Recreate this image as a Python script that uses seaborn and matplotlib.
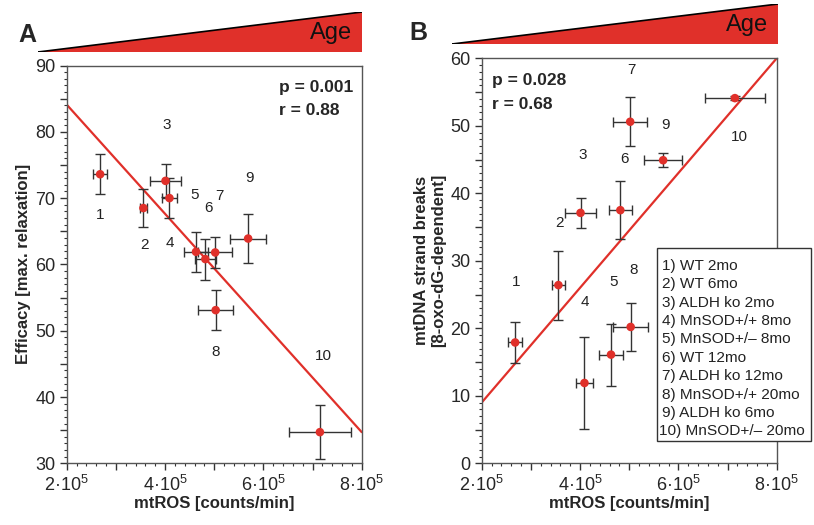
import numpy as np
import matplotlib
matplotlib.use("Agg")
import matplotlib.pyplot as plt
from matplotlib.ticker import MultipleLocator, FuncFormatter
from matplotlib.patches import Polygon, Rectangle
import seaborn as sns

# --------------------------------------------------
# Data (mtROS in units of 1e5 counts/min)
# --------------------------------------------------
groups = [
    "1) WT 2mo", "2) WT 6mo", "3) ALDH ko 2mo", "4) MnSOD+/+ 8mo",
    "5) MnSOD+/\u2013 8mo", "6) WT 12mo", "7) ALDH ko 12mo",
    "8) MnSOD+/+ 20mo", "9) ALDH ko 6mo", "10) MnSOD+/\u2013 20mo",
]
group_ids = ["1", "2", "3", "4", "5", "6", "7", "8", "9", "10"]

mtros = [2.68, 3.56, 4.01, 4.09, 4.63, 4.82, 5.02, 5.03, 5.69, 7.15]
mtros_err_a = [0.14, 0.075, 0.31, 0.16, 0.25, 0.22, 0.35, 0.35, 0.37, 0.63]
mtros_err_b = [0.14, 0.14, 0.32, 0.17, 0.25, 0.24, 0.35, 0.36, 0.38, 0.61]

efficacy = [73.6, 68.5, 72.6, 70.0, 61.9, 60.8, 61.8, 53.1, 63.9, 34.7]
efficacy_err = [3.0, 2.9, 2.5, 3.0, 3.0, 3.1, 2.4, 3.0, 3.7, 4.1]

breaks = [17.9, 26.4, 37.1, 11.9, 16.1, 37.5, 50.6, 20.2, 44.9, 54.1]
breaks_err = [3.0, 5.1, 2.2, 6.8, 4.6, 4.3, 3.6, 3.5, 1.0, 0.3]

# regression lines, value at x = 2e5 and 8e5
fit_x = [2.0, 8.0]
fit_a = [84.1, 34.7]
fit_b = [9.0, 60.0]

# number label positions (data coords)
lab_a_x = [2.68, 3.59, 4.03, 4.10, 4.61, 4.88, 5.10, 5.03, 5.71, 7.22]
lab_a_y = [67.4, 62.9, 81.0, 63.2, 70.5, 68.5, 70.3, 46.8, 73.1, 46.2]
lab_b_x = [2.70, 3.58, 4.05, 4.10, 4.69, 4.90, 5.05, 5.08, 5.73, 7.24]
lab_b_y = [26.8, 35.6, 45.7, 23.9, 26.8, 45.1, 58.3, 28.6, 50.1, 48.4]

RED = "#e0302a"
GREY = "#333333"

# --------------------------------------------------
# Style
# --------------------------------------------------
sns.set_style("ticks")
plt.rcParams["font.family"] = ["Liberation Sans", "DejaVu Sans"]
plt.rcParams["mathtext.fontset"] = "custom"
plt.rcParams["mathtext.rm"] = "Liberation Sans"
plt.rcParams["mathtext.it"] = "Liberation Sans"

fig = plt.figure(figsize=(8.14, 5.25), dpi=100)
W, H = 814, 525


def fig_axes(left, top, right, bottom):
    return fig.add_axes([left / W, 1 - bottom / H, (right - left) / W, (bottom - top) / H])


def xfmt(v, pos):
    k = int(round(v))
    if abs(v - k) < 1e-6 and k % 2 == 0:
        return f"{k}\u00b710$^5$"
    return ""


def style_axes(ax, ylim, ylabel):
    ax.set_xlim(2, 8)
    ax.set_ylim(*ylim)
    ax.xaxis.set_major_locator(MultipleLocator(1))
    ax.xaxis.set_minor_locator(MultipleLocator(0.2))
    ax.xaxis.set_major_formatter(FuncFormatter(xfmt))
    ax.yaxis.set_major_locator(MultipleLocator(5))
    ax.yaxis.set_minor_locator(MultipleLocator(1))
    ax.yaxis.set_major_formatter(
        FuncFormatter(lambda v, p: f"{int(v)}" if int(round(v)) % 10 == 0 else "")
    )
    ax.tick_params(which="major", direction="out", length=5, width=1, labelsize=13,
                   color=GREY, pad=3)
    ax.tick_params(which="minor", direction="out", length=2.5, width=0.8, color=GREY)
    for sp in ax.spines.values():
        sp.set_visible(True)
        sp.set_color("#555555")
        sp.set_linewidth(1)
    ax.set_xlabel("mtROS [counts/min]", fontsize=12, fontweight="bold", labelpad=1)
    ax.set_ylabel(ylabel, fontsize=12, fontweight="bold", labelpad=3)


def draw_panel(ax, yvals, yerr, xerr, fit_y, lab_x, lab_y):
    sns.lineplot(x=fit_x, y=fit_y, ax=ax, color=RED, linewidth=1.6, zorder=2)
    ax.errorbar(mtros, yvals, xerr=xerr, yerr=yerr, fmt="none", ecolor=GREY,
                elinewidth=1, capsize=3.5, capthick=1, zorder=3)
    sns.scatterplot(x=mtros, y=yvals, ax=ax, color=RED, s=38, edgecolor="none", zorder=4)
    for gid, lx, ly in zip(group_ids, lab_x, lab_y):
        ax.text(lx, ly, gid, fontsize=11, ha="center", va="center", color="#222222")


def age_wedge(left, top, right, bottom):
    tax = fig_axes(left, top, right, bottom)
    tax.set_xlim(0, 1)
    tax.set_ylim(0, 1)
    tax.axis("off")
    tax.add_patch(Polygon([(0, 0), (1, 1), (1, 0)], closed=True, facecolor=RED,
                          edgecolor="none"))
    tax.plot([0, 1], [0, 1], color="black", linewidth=1.2)
    tax.plot([0, 0.02], [0, 0], color="black", linewidth=1.2)
    tax.text(0.97, 0.47, "Age", fontsize=17, ha="right", va="center", color="#111111")


# --------------------------------------------------
# Panel A
# --------------------------------------------------
ax_a = fig_axes(66.7, 65.5, 361.7, 463.3)
draw_panel(ax_a, efficacy, efficacy_err, mtros_err_a, fit_a, lab_a_x, lab_a_y)
style_axes(ax_a, (30, 90), "Efficacy [max. relaxation]")
ax_a.text(0.72, 0.945, "p = 0.001", transform=ax_a.transAxes, fontsize=12.5,
          fontweight="bold", ha="left", va="center")
ax_a.text(0.72, 0.887, "r = 0.88", transform=ax_a.transAxes, fontsize=12.5,
          fontweight="bold", ha="left", va="center")
age_wedge(38, 12, 362, 52)
fig.text(27 / W, 1 - 35 / H, "A", fontsize=18, fontweight="bold", ha="center", va="center")

# --------------------------------------------------
# Panel B
# --------------------------------------------------
ax_b = fig_axes(481.7, 58.3, 776.7, 463.3)
draw_panel(ax_b, breaks, breaks_err, mtros_err_b, fit_b, lab_b_x, lab_b_y)
style_axes(ax_b, (0, 60), "mtDNA strand breaks\n[8-oxo-dG-dependent]")
ax_b.text(0.035, 0.945, "p = 0.028", transform=ax_b.transAxes, fontsize=12.5,
          fontweight="bold", ha="left", va="center")
ax_b.text(0.035, 0.885, "r = 0.68", transform=ax_b.transAxes, fontsize=12.5,
          fontweight="bold", ha="left", va="center")
age_wedge(452, 4, 778, 44)
fig.text(418 / W, 1 - 33 / H, "B", fontsize=18, fontweight="bold", ha="center", va="center")

# legend box
box_l, box_t, box_r, box_b = 657, 248, 811, 441
fig.add_artist(Rectangle((box_l / W, 1 - box_b / H), (box_r - box_l) / W,
                         (box_b - box_t) / H, transform=fig.transFigure,
                         facecolor="white", edgecolor="#333333", linewidth=1, zorder=5))
for i, g in enumerate(groups):
    x0 = 662 if i < 9 else 659
    fig.text(x0 / W, 1 - (265.7 + i * 18.4) / H, g, fontsize=11.1, ha="left",
             va="center", color="#222222", zorder=6)

fig.savefig("out.png", dpi=100)
